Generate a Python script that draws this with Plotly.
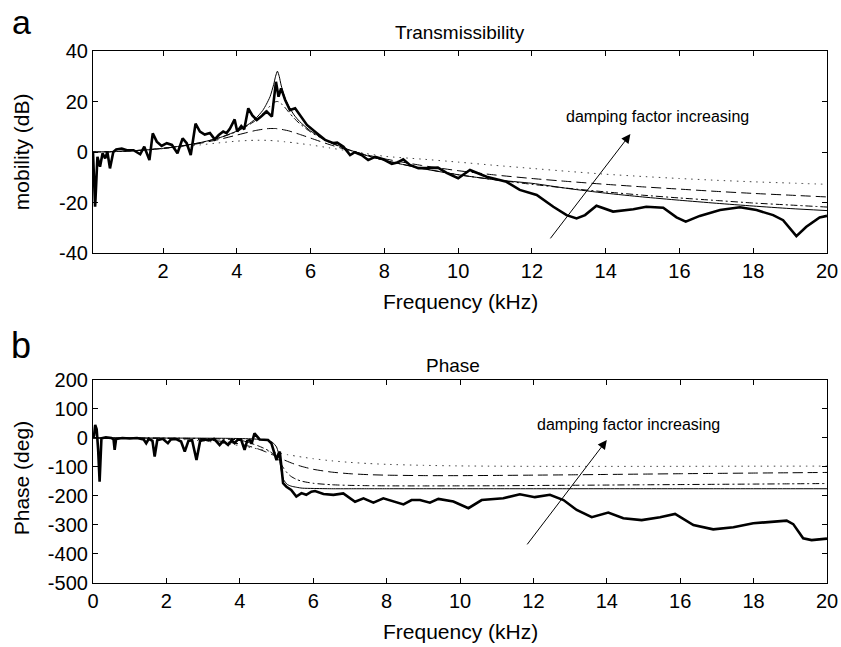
import plotly.graph_objects as go

# ---------------- data ----------------
F_MODEL = [0.0, 0.5, 1, 1.5, 2, 2.5, 3, 3.5, 4, 4.3, 4.5, 4.7, 4.8, 4.9, 5.0, 5.05, 5.1, 5.15,
           5.2, 5.3, 5.4, 5.55, 5.7, 6, 6.5, 7, 7.5, 8, 9, 10, 11, 12, 13, 14, 15, 16, 17, 18, 19, 20]

# transmissibility models (dB), damping increasing: solid < dashdot < dashed < dotted
MAG_SOLID = [0, 0.1, 0.35, 0.8, 1.45, 2.4, 3.7, 5.5, 8.3, 10.8, 13.1, 16.4, 18.9, 21.9, 26.8, 30.0,
             32.0, 29.9, 26.5, 21.5, 18.3, 14.7, 12.1, 8.3, 4.1, 1.1, -1.3, -3.3, -6.5, -9.0, -11.0,
             -12.4, -14.5, -16.3, -17.8, -19.1, -20.3, -21.4, -22.4, -23.2]
MAG_DASHDOT = [0, 0.08, 0.34, 0.78, 1.45, 2.37, 3.67, 5.48, 8.1, 10.5, 12.4, 15.1, 16.6, 18.2, 19.5,
               19.9, 20.0, 19.8, 19.2, 17.7, 15.9, 13.4, 11.3, 7.9, 3.9, 1.0, -1.3, -3.3, -6.4, -9.0,
               -11.0, -12.8, -14.4, -15.8, -17.1, -18.2, -19.2, -20.2, -21.0, -21.8]
MAG_DASHED = [0, 0.09, 0.36, 0.8, 1.42, 2.3, 3.43, 4.9, 6.7, 7.8, 8.5, 9.0, 9.2, 9.3, 9.3, 9.3, 9.2,
              9.1, 9.0, 8.7, 8.4, 7.7, 7.0, 5.5, 3.0, 0.8, -1.05, -2.7, -5.3, -7.4, -9.1, -10.5,
              -11.7, -12.8, -13.8, -14.7, -15.6, -16.4, -17.1, -17.8]
MAG_DOTTED = [0, 0.08, 0.33, 0.75, 1.31, 2.0, 2.8, 3.6, 4.3, 4.55, 4.64, 4.65, 4.62, 4.55, 4.46, 4.4,
              4.35, 4.3, 4.2, 4.05, 3.9, 3.65, 3.35, 2.8, 1.65, 0.5, -0.6, -1.7, -2.8, -4.0, -5.3,
              -6.5, -7.7, -8.8, -9.7, -10.5, -11.2, -11.8, -12.3, -12.8]

# phase models (deg)
PH_SOLID = [0, 0, -0.1, -0.1, -0.2, -0.4, -0.6, -1.0, -1.8, -3.0, -4.4, -7.4, -10.2, -16.0, -30.9,
            -50.5, -88.6, -126.5, -145.5, -160.5, -166, -170, -173, -174, -175, -175, -175, -175,
            -175, -175, -175, -175, -175, -175, -175, -175, -175, -175, -175, -175]
PH_DASHDOT = [0, 0, -0.1, -0.2, -0.4, -1.0, -1.8, -3.5, -7.0, -18, -27, -38, -45, -54, -66, -75, -85,
              -95.3, -105.4, -121.7, -132.8, -143.2, -149.4, -156.2, -161.2, -163.4, -164.4, -165,
              -165.2, -165, -164.7, -163.8, -163, -162.3, -161.4, -160.6, -159.7, -158.9, -158, -157]
PH_DASHED = [0, 0, -0.2, -0.6, -1.5, -3.1, -6.1, -11.4, -20.8, -29.9, -37.7, -47.4, -52.7, -58.2,
             -64, -66.9, -69.7, -72.5, -75.3, -80.7, -85.8, -92.7, -98.5, -107.9, -117.6, -123.2,
             -126.4, -128.2, -129.7, -129.8, -129.1, -128.1, -127, -125.7, -124.5, -123.2, -122,
             -120.9, -119.9, -118.8]
PH_DOTTED = [0, -0.05, -0.34, -1.15, -2.8, -5.7, -10.3, -17.1, -26.3, -33.1, -37.9, -42.9, -45.3,
             -47.9, -50.3, -51.5, -52.8, -54, -55.1, -57.5, -59.7, -62.9, -65.9, -71.4, -78.7,
             -84.1, -88, -90.8, -94.3, -96.3, -97.2, -97.7, -97.9, -97.9, -97.8, -97.7, -97.4,
             -97.2, -97.1, -96.9]

# measured transmissibility (thick line)
F_MEAS_MAG = [0.10, 0.157, 0.17, 0.22, 0.29, 0.36, 0.43, 0.49, 0.56, 0.65, 0.73, 0.88, 1.02, 1.2,
              1.38, 1.49, 1.63, 1.72, 1.83, 1.96, 2.1, 2.24, 2.39, 2.53, 2.64, 2.75, 2.88, 3.0, 3.13,
              3.27, 3.4, 3.51, 3.63, 3.72, 3.81, 3.94, 4.01, 4.12, 4.2, 4.31, 4.42, 4.54, 4.65,
              4.81, 4.95, 5.06, 5.13, 5.2, 5.31, 5.44, 5.58, 5.71, 5.9, 6.17, 6.39, 6.62, 6.72,
              6.89, 7.07, 7.2, 7.38, 7.56, 7.75, 7.97, 8.2, 8.35, 8.51, 8.69, 8.92, 9.15, 9.45,
              9.7, 10.0, 10.32, 10.77, 11.31, 11.67, 12.13, 12.58, 12.94, 13.21, 13.44, 13.75,
              14.2, 14.75, 15.1, 15.56, 15.92, 16.17, 16.55, 17.1, 17.64, 18.09, 18.54, 18.81,
              19.17, 19.44, 19.8, 20.0]
MEAS_MAG = [0.0, -21.7, -18.0, -1.9, -5.8, -0.5, -2.5, 0.0, -6.5, 0.0, 1.0, 1.4, 0.7, 0.7, -0.9,
            2.1, -3.2, 7.4, 4.1, 2.4, 3.5, 2.8, -0.5, 5.4, 3.5, -1.2, 11.2, 8.1, 6.9, 7.5, 5.0,
            6.7, 8.1, 7.5, 9.2, 12.9, 8.1, 10.3, 9.0, 17.3, 14.5, 12.7, 14.0, 16.0, 14.0, 27.8,
            21.9, 25.2, 20.6, 16.6, 17.3, 14.7, 10.7, 7.4, 4.8, 3.5, 3.7, 2.1, -1.2, -0.1, -1.2,
            -3.2, -1.9, -2.9, -4.7, -4.2, -2.9, -5.1, -6.4, -6.4, -6.2, -8.4, -10.4, -7.1, -9.8,
            -11.8, -15.0, -17.0, -21.7, -25.0, -26.3, -25.0, -21.3, -23.6, -22.7, -21.7, -22.1,
            -25.9, -27.6, -25.3, -23.0, -21.9, -23.0, -25.0, -27.0, -33.3, -29.6, -25.9, -25.3]

# measured phase (thick line)
F_MEAS_PH = [0.0, 0.03, 0.06, 0.1, 0.14, 0.18, 0.23, 0.35, 0.5, 0.56, 0.59, 0.63, 0.8, 1.0, 1.2,
             1.38, 1.45, 1.52, 1.62, 1.68, 1.75, 1.9, 2.04, 2.12, 2.25, 2.4, 2.5, 2.6, 2.7, 2.82,
             2.92, 3.05, 3.15, 3.3, 3.45, 3.55, 3.68, 3.78, 3.86, 3.95, 4.04, 4.13, 4.2, 4.27,
             4.32, 4.4, 4.54, 4.65, 4.77, 4.86, 5.0, 5.05, 5.09, 5.18, 5.27, 5.4, 5.54, 5.68,
             5.81, 5.95, 6.05, 6.28, 6.55, 6.82, 7.14, 7.37, 7.64, 7.91, 8.14, 8.46, 8.68, 8.91,
             9.18, 9.41, 9.82, 10.23, 10.59, 11.18, 11.63, 12.04, 12.45, 12.82, 13.18, 13.59,
             14.04, 14.45, 14.95, 15.45, 15.86, 16.36, 16.9, 17.45, 17.99, 18.54, 18.9, 19.08,
             19.35, 19.58, 20.0]
MEAS_PH = [0, 10, 45, 30, -40, -151, -1, 2, 0, -5, -41, -3, 0, -2, 0, -5, -18, -3, -10, -64, -8,
           -3, -18, -5, -3, -12, -47, -10, -8, -76, -10, -5, -8, -3, -24, -10, -24, -8, -18, -5,
           -7, -41, -10, -7, -20, 16, -5, -5, -7, -18, -76, -55, -47, -156, -168, -179, -202,
           -190, -196, -185, -183, -193, -196, -191, -220, -208, -223, -208, -216, -229, -214,
           -214, -223, -210, -219, -242, -214, -208, -194, -204, -196, -214, -248, -273, -257,
           -277, -283, -273, -262, -300, -315, -308, -294, -290, -285, -297, -346, -352, -347]

X_TICKS_TOP = [2, 4, 6, 8, 10, 12, 14, 16, 18, 20]
X_TICKS_BOT = [0, 2, 4, 6, 8, 10, 12, 14, 16, 18, 20]
Y_TICKS_TOP = [-40, -20, 0, 20, 40]
Y_TICKS_BOT = [-500, -400, -300, -200, -100, 0, 100, 200]

# ---------------- figure ----------------
FONT = "Liberation Sans, Arial, sans-serif"
styles = [
    ("solid", dict(color="black", width=1)),
    ("dashdot", dict(color="black", width=1, dash="7px,3px,2px,3px")),
    ("dashed", dict(color="black", width=1, dash="10px,5px")),
    ("dotted", dict(color="#444444", width=1, dash="1.5px,5px")),
]

fig = go.Figure()
mags = [MAG_SOLID, MAG_DASHDOT, MAG_DASHED, MAG_DOTTED]
phs = [PH_SOLID, PH_DASHDOT, PH_DASHED, PH_DOTTED]
for (name, ln), m in zip(styles, mags):
    fig.add_trace(go.Scatter(x=F_MODEL, y=m, mode="lines", line=dict(shape="spline", smoothing=0.6, **ln),
                             xaxis="x", yaxis="y", showlegend=False))
fig.add_trace(go.Scatter(x=F_MEAS_MAG, y=MEAS_MAG, mode="lines", line=dict(color="black", width=2.6),
                         xaxis="x", yaxis="y", showlegend=False))
for (name, ln), p in zip(styles, phs):
    fig.add_trace(go.Scatter(x=F_MODEL, y=p, mode="lines", line=dict(shape="spline", smoothing=0.6, **ln),
                             xaxis="x2", yaxis="y2", showlegend=False))
fig.add_trace(go.Scatter(x=F_MEAS_PH, y=MEAS_PH, mode="lines", line=dict(color="black", width=2.6),
                         xaxis="x2", yaxis="y2", showlegend=False))

axis_common = dict(showline=True, linecolor="black", linewidth=1.2, mirror="ticks", ticks="inside",
                   ticklen=5, tickcolor="black", showgrid=False, zeroline=False, automargin=False,
                   tickfont=dict(family=FONT, size=20, color="black"))

def labels(vals):
    return [str(v) for v in vals]  # plain hyphen-minus, as in the reference

fig.update_layout(
    width=841, height=647,
    margin=dict(l=93, r=14, t=51, b=64),
    paper_bgcolor="white", plot_bgcolor="white",
    showlegend=False,
    xaxis=dict(domain=[0, 1], anchor="y", range=[0.1, 20], tickvals=X_TICKS_TOP,
               ticktext=labels(X_TICKS_TOP), **axis_common),
    yaxis=dict(domain=[0.6203, 1], anchor="x", range=[-40, 40], tickvals=Y_TICKS_TOP,
               ticktext=labels(Y_TICKS_TOP), **axis_common),
    xaxis2=dict(domain=[0, 1], anchor="y2", range=[0, 20], tickvals=X_TICKS_BOT,
                ticktext=labels(X_TICKS_BOT), **axis_common),
    yaxis2=dict(domain=[0, 0.3816], anchor="x2", range=[-500, 200], tickvals=Y_TICKS_BOT,
                ticktext=labels(Y_TICKS_BOT), **axis_common),
)

def txt(text, x, y, size, **kw):
    d = dict(text=text, x=x, y=y, xref="paper", yref="paper", showarrow=False,
             font=dict(family=FONT, size=size, color="black"), xanchor="center", yanchor="middle")
    d.update(kw)
    fig.add_annotation(**d)

txt("a", -0.098, 1.0935, 34, yanchor="top")
txt("b", -0.098, 0.447, 36)
txt("Transmissibility", 0.5, 1.034, 19)
txt("Phase", 0.49, 0.408, 19)
txt("Frequency (kHz)", 0.5, 0.530, 21)
txt("Frequency (kHz)", 0.5, -0.092, 21)
txt("mobility (dB)", -0.098, 0.810, 21, textangle=-90)
txt("Phase (deg)", -0.098, 0.197, 21, textangle=-90)

# arrows and labels
fig.add_annotation(x=14.67, y=7.1, ax=12.47, ay=-34.8, xref="x", yref="y", axref="x", ayref="y",
                   showarrow=True, arrowhead=2, arrowsize=1.8, arrowwidth=1, arrowcolor="black", text="")
fig.add_annotation(x=15.4, y=14.0, xref="x", yref="y", showarrow=False, text="damping factor increasing",
                   font=dict(family=FONT, size=16, color="black"))
fig.add_annotation(x=14.0, y=-7, ax=11.8, ay=-372, xref="x2", yref="y2", axref="x2", ayref="y2",
                   showarrow=True, arrowhead=2, arrowsize=1.8, arrowwidth=1, arrowcolor="black", text="")
fig.add_annotation(x=14.6, y=45, xref="x2", yref="y2", showarrow=False, text="damping factor increasing",
                   font=dict(family=FONT, size=16, color="black"))

fig.write_html("out.html", config={"displayModeBar": False},
               post_script="document.body.style.margin='0';document.body.style.overflow='hidden';")
